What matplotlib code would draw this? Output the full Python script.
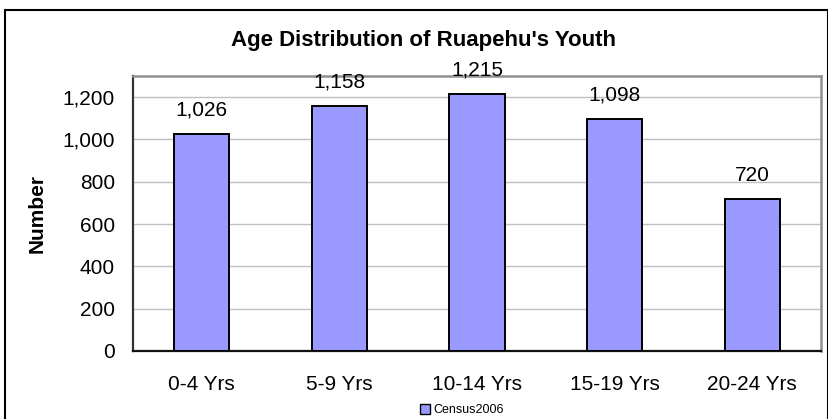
import matplotlib
matplotlib.use("Agg")
import matplotlib.pyplot as plt
from matplotlib.ticker import FuncFormatter
from matplotlib.patches import Rectangle, Patch

categories = ["0-4 Yrs", "5-9 Yrs", "10-14 Yrs", "15-19 Yrs", "20-24 Yrs"]
values = [1026, 1158, 1215, 1098, 720]
series_name = "Census2006"
title = "Age Distribution of Ruapehu's Youth"
y_label = "Number"
y_ticks = [0, 200, 400, 600, 800, 1000, 1200]

plt.rcParams['font.family'] = ['Liberation Sans', 'DejaVu Sans']

W, H = 829, 419
fig = plt.figure(figsize=(W / 100, H / 100), dpi=100)
ax = fig.add_axes([133 / W, 1 - 351 / H, (821 - 133) / W, (351 - 76) / H])

x = list(range(len(categories)))
ax.bar(x, values, width=0.4, color="#9999FF", edgecolor="black", linewidth=1.4, zorder=3)

for xi, v in zip(x, values):
    ax.annotate(f"{v:,}", (xi, v), xytext=(0, 13), textcoords="offset points",
                ha="center", va="baseline", fontsize=15)

ax.set_xlim(-0.5, len(categories) - 0.5)
ax.set_ylim(0, 1300)
ax.set_yticks(y_ticks)
ax.yaxis.set_major_formatter(FuncFormatter(lambda v, p: f"{int(v):,}"))
ax.set_xticks(x)
ax.set_xticklabels(categories)
ax.tick_params(axis="x", length=0, pad=17, labelsize=15)
ax.tick_params(axis="y", length=0, pad=13, labelsize=15)
ax.grid(axis="y", color="#C0C0C0", linewidth=1.0, zorder=0)

for s in ["top", "right"]:
    ax.spines[s].set_color("#909090")
    ax.spines[s].set_linewidth(1.8)
ax.spines["left"].set_color("#333333")
ax.spines["left"].set_linewidth(1.6)
ax.spines["bottom"].set_color("#111111")
ax.spines["bottom"].set_linewidth(1.6)

fig.text(424 / W, 1 - 46 / H, title, ha="center", va="baseline",
         fontsize=16, fontweight="bold")
fig.text(37 / W, 1 - 213 / H, y_label, ha="center", va="center",
         rotation=90, fontsize=15, fontweight="bold")

handle = Patch(facecolor="#9999FF", edgecolor="black", linewidth=1.0)
leg = fig.legend([handle], [series_name], loc="center", bbox_to_anchor=(462 / W, 1 - 410 / H),
                 frameon=False, fontsize=9, handlelength=0.8, handleheight=0.8,
                 handletextpad=0.3, borderpad=0, borderaxespad=0)

fig.patches.append(Rectangle((5 / W, -0.02), (828 - 5) / W, 1.02 - 10 / H,
                             transform=fig.transFigure, fill=False,
                             edgecolor="black", linewidth=1.5, clip_on=False))

fig.savefig("out.png", dpi=100)
